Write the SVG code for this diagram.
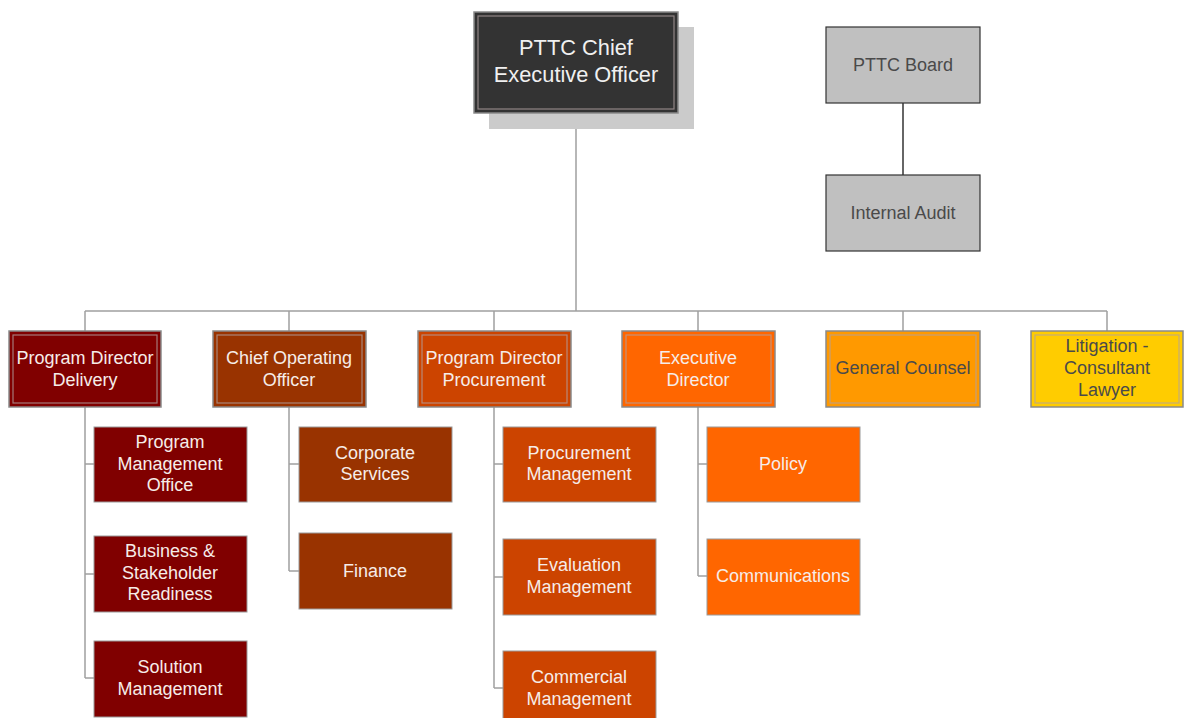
<svg xmlns="http://www.w3.org/2000/svg" width="1184" height="718" viewBox="0 0 1184 718">
<style>
text{font-family:"Liberation Sans",Arial,sans-serif;text-anchor:middle;}
.t{font-size:18px;fill:#f6ece8;}
.td{font-size:18px;fill:#4a4a4a;}
.ceo{font-size:21.8px;fill:#f0f0f0;}
.outer{stroke:#8a8a8a;stroke-width:1.5;}
.inner{fill:none;stroke:#b0a0a0;stroke-opacity:0.75;stroke-width:1.2;}
.sub{stroke:#9a9a9a;stroke-width:1;}
.conn{fill:none;stroke:#a0a0a0;stroke-width:1.5;}
.board{fill:#c0c0c0;stroke:#333;stroke-width:1.2;}
</style>
<rect width="1184" height="718" fill="#ffffff"/>
<g id="connectors">
<path class="conn" d="M576 113V311M85 311H1107M85 311V331M289 311V331M494 311V331M698 311V331M903 311V331M1107 311V331"/>
<path class="conn" d="M85 407V678M85 464H94M85 574H94M85 678H94"/>
<path class="conn" d="M289 407V571M289 464H299M289 571H299"/>
<path class="conn" d="M494 407V688M494 464H503M494 577H503M494 688H503"/>
<path class="conn" d="M698 407V576M698 464H707M698 576H707"/>
<path d="M903 103V175" stroke="#333" stroke-width="1.5" fill="none"/>
</g>
<g id="ceo">
<rect x="489" y="27" width="205" height="102" fill="#cbcbcb"/>
<rect x="474" y="12" width="204" height="101" fill="#333333" class="outer"/>
<rect x="478" y="16" width="196" height="93" class="inner" stroke="#9a9a9a"/>
<text class="ceo" x="576" y="55">PTTC Chief</text>
<text class="ceo" x="576" y="82">Executive Officer</text>
</g>
<g id="board">
<rect x="826" y="27" width="154" height="76" class="board"/>
<text class="td" x="903" y="71">PTTC Board</text>
</g>
<g id="audit">
<rect x="826" y="175" width="154" height="76" class="board"/>
<text class="td" x="903" y="219">Internal Audit</text>
</g>
<g id="pd-delivery">
<rect x="9" y="331" width="152" height="76" fill="#800000" class="outer"/>
<rect x="13" y="335" width="144" height="68" class="inner"/>
<text class="t" x="85" y="364">Program Director</text>
<text class="t" x="85" y="386">Delivery</text>
</g>
<g id="coo">
<rect x="213" y="331" width="153" height="76" fill="#993300" class="outer"/>
<rect x="217" y="335" width="145" height="68" class="inner"/>
<text class="t" x="289" y="364">Chief Operating</text>
<text class="t" x="289" y="386">Officer</text>
</g>
<g id="pd-procurement">
<rect x="418" y="331" width="153" height="76" fill="#cc4400" class="outer"/>
<rect x="422" y="335" width="145" height="68" class="inner"/>
<text class="t" x="494" y="364">Program Director</text>
<text class="t" x="494" y="386">Procurement</text>
</g>
<g id="exec-director">
<rect x="622" y="331" width="153" height="76" fill="#ff6600" class="outer"/>
<rect x="626" y="335" width="145" height="68" class="inner"/>
<text class="t" x="698" y="364">Executive</text>
<text class="t" x="698" y="386">Director</text>
</g>
<g id="general-counsel">
<rect x="826" y="331" width="154" height="76" fill="#ff9900" class="outer"/>
<rect x="830" y="335" width="146" height="68" class="inner"/>
<text class="td" x="903" y="374">General Counsel</text>
</g>
<g id="litigation">
<rect x="1031" y="331" width="152" height="76" fill="#ffcc00" class="outer"/>
<rect x="1035" y="335" width="144" height="68" class="inner"/>
<text class="td" x="1107" y="352">Litigation -</text>
<text class="td" x="1107" y="374">Consultant</text>
<text class="td" x="1107" y="396">Lawyer</text>
</g>
<g id="pmo">
<rect x="94" y="427" width="153" height="75" fill="#800000" class="sub"/>
<text class="t" x="170" y="448">Program</text>
<text class="t" x="170" y="470">Management</text>
<text class="t" x="170" y="491">Office</text>
</g>
<g id="business-readiness">
<rect x="94" y="536" width="153" height="76" fill="#800000" class="sub"/>
<text class="t" x="170" y="557">Business &amp;</text>
<text class="t" x="170" y="579">Stakeholder</text>
<text class="t" x="170" y="600">Readiness</text>
</g>
<g id="solution-management">
<rect x="94" y="641" width="153" height="76" fill="#800000" class="sub"/>
<text class="t" x="170" y="673">Solution</text>
<text class="t" x="170" y="695">Management</text>
</g>
<g id="corporate-services">
<rect x="299" y="427" width="153" height="75" fill="#993300" class="sub"/>
<text class="t" x="375" y="459">Corporate</text>
<text class="t" x="375" y="480">Services</text>
</g>
<g id="finance">
<rect x="299" y="533" width="153" height="76" fill="#993300" class="sub"/>
<text class="t" x="375" y="577">Finance</text>
</g>
<g id="procurement-management">
<rect x="503" y="427" width="153" height="75" fill="#cc4400" class="sub"/>
<text class="t" x="579" y="459">Procurement</text>
<text class="t" x="579" y="480">Management</text>
</g>
<g id="evaluation-management">
<rect x="503" y="539" width="153" height="76" fill="#cc4400" class="sub"/>
<text class="t" x="579" y="571">Evaluation</text>
<text class="t" x="579" y="593">Management</text>
</g>
<g id="commercial-management">
<rect x="503" y="651" width="153" height="76" fill="#cc4400" class="sub"/>
<text class="t" x="579" y="683">Commercial</text>
<text class="t" x="579" y="705">Management</text>
</g>
<g id="policy">
<rect x="707" y="427" width="153" height="75" fill="#ff6600" class="sub"/>
<text class="t" x="783" y="470">Policy</text>
</g>
<g id="communications">
<rect x="707" y="539" width="153" height="76" fill="#ff6600" class="sub"/>
<text class="t" x="783" y="582">Communications</text>
</g>
</svg>
